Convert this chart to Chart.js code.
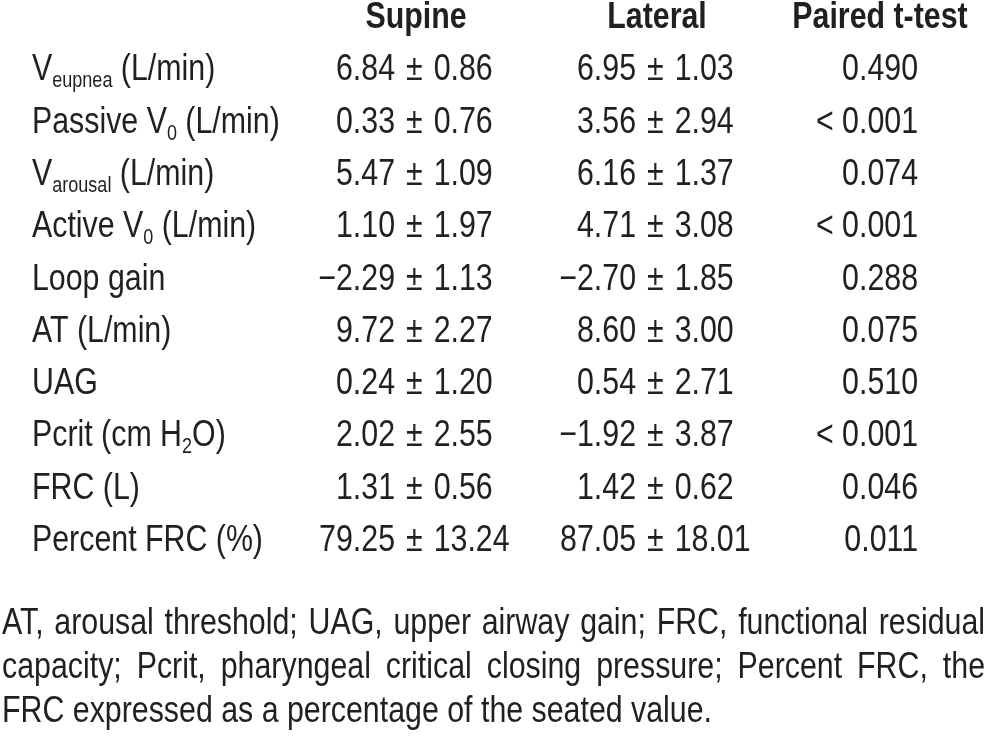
<!DOCTYPE html>
<html>
<head>
<meta charset="utf-8">
<script src="https://cdn.jsdelivr.net/npm/chart.js@4.4.1/dist/chart.umd.min.js"></script>
<style>
  html, body { margin: 0; padding: 0; background: #fff; }
  canvas { display: block; }
</style>
</head>
<body>
<canvas id="table" width="987" height="737"></canvas>
<script>
// Table content
const columnTitles = ['Supine', 'Lateral', 'Paired t-test'];
const parameters = [
    'V_{eupnea} (L/min)',
    'Passive V_{0} (L/min)',
    'V_{arousal} (L/min)',
    'Active V_{0} (L/min)',
    'Loop gain',
    'AT (L/min)',
    'UAG',
    'Pcrit (cm H_{2}O)',
    'FRC (L)',
    'Percent FRC (%)',
];
const supineMean = [6.84, 0.33, 5.47, 1.10, -2.29, 9.72, 0.24, 2.02, 1.31, 79.25];
const supineSd = [0.86, 0.76, 1.09, 1.97, 1.13, 2.27, 1.20, 2.55, 0.56, 13.24];
const lateralMean = [6.95, 3.56, 6.16, 4.71, -2.70, 8.60, 0.54, -1.92, 1.42, 87.05];
const lateralSd = [1.03, 2.94, 1.37, 3.08, 1.85, 3.00, 2.71, 3.87, 0.62, 18.01];
const pValues = ['0.490', '< 0.001', '0.074', '< 0.001', '0.288', '0.075',
    '0.510', '< 0.001', '0.046', '0.011'];
const footnoteLines = [
    'AT, arousal threshold; UAG, upper airway gain; FRC, functional residual',
    'capacity; Pcrit, pharyngeal critical closing pressure; Percent FRC, the',
    'FRC expressed as a percentage of the seated value.',
];

const INK = '#231f20';
const FONT_SIZE = 37;
const SUB_SIZE = 22;
const PM_GAP = 11; // space either side of the plus-minus sign

/**
 * Use Liberation Sans Narrow if present, otherwise squeeze Liberation Sans
 */
const narrow = (function() {
    'use strict';
    const c = document.createElement('canvas').getContext('2d');
    const s = 'Percent FRC (%) 0123456789';
    c.font = '40px monospace';
    const a = c.measureText(s).width;
    c.font = '40px "Liberation Sans Narrow", monospace';
    const b = c.measureText(s).width;
    return Math.abs(a - b) > 1;
})();
const FAMILY = narrow ? '"Liberation Sans Narrow"' : '"Liberation Sans"';
const SQUEEZE = narrow ? 1 : 0.82;

function setFont(ctx, size, bold) {
    ctx.font = (bold ? 'bold ' : '') + size + 'px ' + FAMILY;
}

function textWidth(ctx, text) {
    return ctx.measureText(text).width * SQUEEZE;
}

function drawText(ctx, text, x, y, align) {
    ctx.save();
    ctx.translate(x, y);
    ctx.scale(SQUEEZE, 1);
    ctx.textAlign = align || 'left';
    ctx.textBaseline = 'alphabetic';
    ctx.fillText(text, 0, 0);
    ctx.restore();
}

// 'V_{eupnea} (L/min)' -> [{text:'V'}, {text:'eupnea', sub:true}, ...]
function parseRich(label) {
    const parts = [];
    const re = /_\{([^}]*)\}/g;
    let last = 0;
    let m;
    while ((m = re.exec(label)) !== null) {
        if (m.index > last) {
            parts.push({text: label.slice(last, m.index), sub: false});
        }
        parts.push({text: m[1], sub: true});
        last = re.lastIndex;
    }
    if (last < label.length) {
        parts.push({text: label.slice(last), sub: false});
    }
    return parts;
}

function drawRich(ctx, label, x, y) {
    let cx = x;
    for (const part of parseRich(label)) {
        setFont(ctx, part.sub ? SUB_SIZE : FONT_SIZE, false);
        drawText(ctx, part.text, cx, part.sub ? y + 7 : y, 'left');
        cx += textWidth(ctx, part.text);
    }
}

function fmt(v) {
    return (v < 0 ? '\u2212' : '') + Math.abs(v).toFixed(2);
}

// Column styling: pixel nudges from the column's scale position
const columnStyle = [
    {dx: 0},
    {dx: 79, headDx: 89},
    {dx: 25, headDx: 35},
    {dx: 1, headDx: -37},
];

const rows = parameters.map((p, i) => i);
const datasets = [
    {label: 'Parameter', cells: parameters, data: rows.map((r) => ({x: 0, y: r}))},
    {label: columnTitles[0], mean: supineMean, sd: supineSd,
        data: rows.map((r) => ({x: 1, y: r}))},
    {label: columnTitles[1], mean: lateralMean, sd: lateralSd,
        data: rows.map((r) => ({x: 2, y: r}))},
    {label: columnTitles[2], cells: pValues, data: rows.map((r) => ({x: 3, y: r}))},
];

const pluginTableText = {
    id: 'tableText',
    afterDatasetsDraw: function(chart) {
        'use strict';
        const ctx = chart.ctx;
        const xs = chart.scales.x;
        const ys = chart.scales.y;
        ctx.save();
        ctx.fillStyle = INK;

        // Column headings
        setFont(ctx, FONT_SIZE, true);
        const headY = ys.getPixelForValue(-1);
        for (let c = 1; c < chart.data.datasets.length; ++c) {
            const x = xs.getPixelForValue(c) + columnStyle[c].headDx;
            drawText(ctx, chart.data.datasets[c].label, x, headY, 'center');
        }

        chart.data.datasets.forEach((ds, c) => {
            const meta = chart.getDatasetMeta(c);
            meta.data.forEach((pt, r) => {
                const x = pt.x + columnStyle[c].dx;
                const y = pt.y;
                if (c === 0) {
                    drawRich(ctx, ds.cells[r], x, y);
                } else if (ds.mean) {
                    // aligned on the plus-minus sign
                    setFont(ctx, FONT_SIZE, false);
                    drawText(ctx, fmt(ds.mean[r]), x - PM_GAP, y, 'right');
                    drawText(ctx, '\u00b1', x, y, 'left');
                    drawText(ctx, fmt(ds.sd[r]),
                        x + textWidth(ctx, '\u00b1') + PM_GAP, y, 'left');
                } else {
                    setFont(ctx, FONT_SIZE, false);
                    drawText(ctx, ds.cells[r], x, y, 'right');
                }
            });
        });

        // Footnote, justified across the full width
        setFont(ctx, FONT_SIZE, false);
        const left = 2;
        const right = chart.width - 2;
        footnoteLines.forEach((line, i) => {
            const y = chart.chartArea.bottom + 83 + i * 44;
            const words = line.split(' ');
            const widths = words.map((w) => textWidth(ctx, w));
            const total = widths.reduce((a, b) => a + b, 0);
            const justify = i < footnoteLines.length - 1;
            const gap = justify ? (right - left - total) / (words.length - 1) :
                textWidth(ctx, ' ');
            let x = left;
            words.forEach((w, k) => {
                drawText(ctx, w, x, y, 'left');
                x += widths[k] + gap;
            });
        });
        ctx.restore();
    },
};

new Chart(document.getElementById('table'), {
    type: 'scatter',
    data: {datasets: datasets},
    options: {
        responsive: false,
        animation: false,
        devicePixelRatio: 1,
        layout: {padding: {left: 32, right: 70, top: 28, bottom: 186}},
        elements: {point: {radius: 0, hoverRadius: 0}},
        scales: {
            x: {type: 'linear', min: 0, max: 3, display: false},
            y: {type: 'linear', min: -1, max: 9, reverse: true, display: false},
        },
        plugins: {
            legend: {display: false},
            tooltip: {enabled: false},
        },
    },
    plugins: [pluginTableText],
});
</script>
</body>
</html>
